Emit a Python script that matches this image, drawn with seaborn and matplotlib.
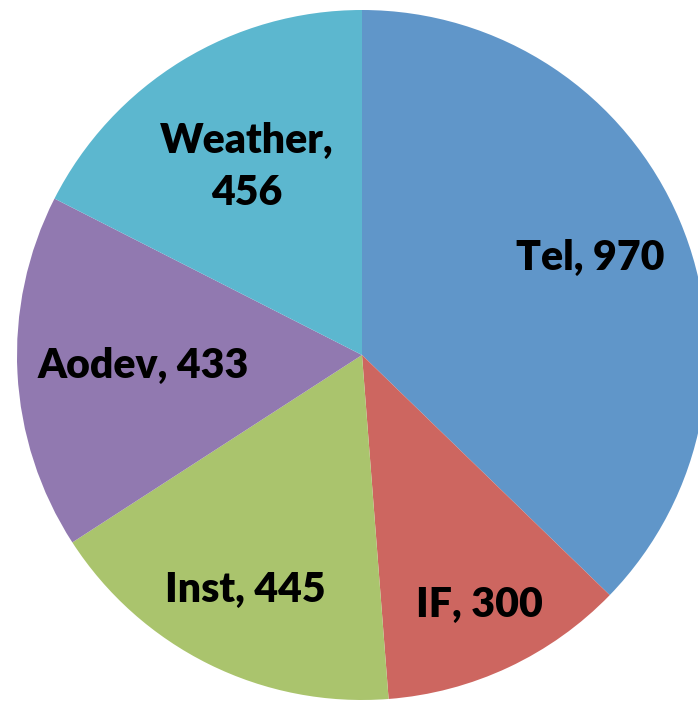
import numpy as np
import matplotlib
matplotlib.use("Agg")
import matplotlib.pyplot as plt
import seaborn as sns

categories = ["Tel", "IF", "Inst", "Aodev", "Weather"]
values = [970, 300, 445, 433, 456]
colors = ["#6096C9", "#CD6660", "#AAC46D", "#9179B0", "#5CB7CF"]
label_texts = ["Tel, 970", "IF, 300", "Inst, 445", "Aodev, 433", "Weather,\n456"]
label_radius = [0.72, 0.80, 0.76, 0.635, 0.64]

sns.set_style("white")
plt.rcParams['font.family'] = ['Lato', 'DejaVu Sans']

fig = plt.figure(figsize=(6.98, 7.01), dpi=100)
ax = fig.add_axes([17/698, 1/701, 690/698, 690/701])
wedges, _ = ax.pie(values, colors=colors, startangle=90, counterclock=False,
                   radius=1, wedgeprops=dict(linewidth=0))
for w, txt, r in zip(wedges, label_texts, label_radius):
    ang = np.deg2rad((w.theta1 + w.theta2) / 2)
    ax.text(r*np.cos(ang), r*np.sin(ang), txt, ha='center', va='center',
            fontsize=29.5, fontweight='heavy', color='black', linespacing=1.45)
ax.set_xlim(-1, 1)
ax.set_ylim(-1, 1)
ax.set_aspect('equal')
ax.axis('off')
fig.savefig("out.png", dpi=100)
